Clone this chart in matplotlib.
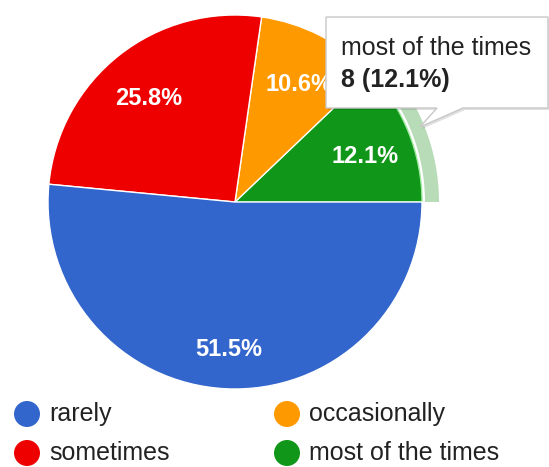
import matplotlib.pyplot as plt
from matplotlib.patches import Wedge, Polygon, Circle

plt.rcParams['font.family'] = ['Liberation Sans', 'DejaVu Sans']

# data
categories = ["rarely", "sometimes", "occasionally", "most of the times"]
counts = [34, 17, 7, 8]
colors = ["#3366cc", "#ee0000", "#ff9900", "#109618"]
highlight = "most of the times"

W, H = 549, 467
fig = plt.figure(figsize=(W / 100, H / 100), dpi=100)
ax = fig.add_axes([0, 0, 1, 1])

# pie goes counterclockwise from 3 o'clock: most, occasionally, sometimes, rarely
order = [3, 2, 1, 0]
cx, cy, r = 235, H - 202, 187
wedges, _, autotexts = ax.pie(
    [counts[i] for i in order],
    colors=[colors[i] for i in order],
    startangle=0, counterclock=True,
    center=(cx, cy), radius=r,
    autopct='%.1f%%', pctdistance=0.75,
    wedgeprops=dict(edgecolor='white', linewidth=1),
    textprops=dict(color='white', fontsize=17, fontweight='bold'))
# labels sit a little below the wedge centroid
for t in autotexts:
    x, y = t.get_position()
    t.set_position((x, y - 7))

# hover ring around the highlighted slice
total = sum(counts)
hi = categories.index(highlight)
start = 0
for i in order:
    if i == hi:
        break
    start += counts[i] / total * 360
end = start + counts[hi] / total * 360
ax.add_patch(Wedge((cx, cy), 204, start, end, width=14,
                   facecolor='#b8dcb8', edgecolor='none', zorder=1))
wedges[order.index(hi)].set_edgecolor('#9be89b')

# tooltip
pts = [(326, 17), (548, 17), (548, 108), (463, 108), (420, 127), (437, 108), (326, 108)]
shadow = Polygon([(x + 2, H - y - 2) for x, y in pts], closed=True,
                 facecolor='#000000', alpha=0.12, edgecolor='none', zorder=5)
box = Polygon([(x, H - y) for x, y in pts], closed=True,
              facecolor='white', edgecolor='#c8c8c8', linewidth=1, zorder=6)
ax.add_patch(shadow)
ax.add_patch(box)
pct = counts[hi] / total * 100
ax.text(341, H - 55, highlight, fontsize=18, color='#222222', zorder=7)
ax.text(341, H - 87, f"{counts[hi]} ({pct:.1f}%)", fontsize=18,
        fontweight='bold', color='#222222', zorder=7)

# legend, two columns
leg_pos = [(27, 414), (27, 453), (287, 414), (287, 453)]
for (lx, ly), name, c in zip(leg_pos, categories, colors):
    ax.add_patch(Circle((lx, H - ly), 13, facecolor=c, edgecolor='none'))
    ax.text(lx + 22, H - ly, name, fontsize=18, color='#222222',
            va='center')

ax.set_xlim(0, W)
ax.set_ylim(0, H)
ax.set_aspect('equal')
ax.axis('off')

fig.savefig("out.png", dpi=100)
